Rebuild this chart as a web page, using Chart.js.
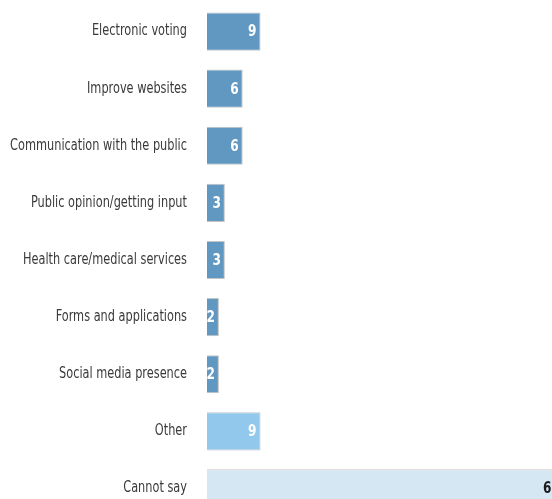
<!DOCTYPE html>
<html>
<head>
<meta charset="utf-8">
<script src="https://cdn.jsdelivr.net/npm/chart.js@4"></script>
<style>
  html, body { margin: 0; padding: 0; overflow: hidden; background: #fff; }
  #wrap { width: 570px; height: 517px; }
</style>
</head>
<body>
<div id="wrap"><canvas id="chart"></canvas></div>
<script>
const categories = [
    "Electronic voting",
    "Improve websites",
    "Communication with the public",
    "Public opinion/getting input",
    "Health care/medical services",
    "Forms and applications",
    "Social media presence",
    "Other",
    "Cannot say"
];
const values = [9, 6, 6, 3, 3, 2, 2, 9, 60];
const barColors = ["#6198c2", "#6198c2", "#6198c2", "#6198c2", "#6198c2", "#6198c2", "#6198c2", "#92c8ec", "#d6e7f4"];
const labelColors = ["#fff", "#fff", "#fff", "#fff", "#fff", "#fff", "#fff", "#fff", "#1a1a1a"];

const FONT = "'DejaVu Sans Condensed', 'DejaVu Sans', sans-serif";

// category names, squeezed a bit to look like a condensed face
const categoryLabels = {
    id: 'categoryLabels',
    afterDraw(chart) {
        const ctx = chart.ctx;
        const yScale = chart.scales.y;
        ctx.save();
        ctx.font = "15px " + FONT;
        ctx.fillStyle = '#3a3a3a';
        ctx.textAlign = 'right';
        ctx.textBaseline = 'middle';
        categories.forEach((name, i) => {
            const y = yScale.getPixelForValue(i);
            ctx.save();
            ctx.translate(chart.chartArea.left - 20, y);
            ctx.scale(0.84, 1);
            ctx.fillText(name, 0, 0);
            ctx.restore();
        });
        ctx.restore();
    }
};

// draws the numbers at the end of each bar
const valueLabels = {
    id: 'valueLabels',
    afterDatasetsDraw(chart) {
        const ctx = chart.ctx;
        const meta = chart.getDatasetMeta(0);
        ctx.save();
        ctx.font = "bold 15px " + FONT;
        ctx.textAlign = 'right';
        ctx.textBaseline = 'middle';
        meta.data.forEach((bar, i) => {
            ctx.save();
            ctx.translate(bar.x - 4, bar.y + 1);
            ctx.scale(0.9, 1);
            ctx.fillStyle = labelColors[i];
            ctx.fillText(values[i], 0, 0);
            ctx.restore();
        });
        ctx.restore();
    }
};

new Chart(document.getElementById('chart'), {
    type: 'bar',
    data: {
        labels: categories,
        datasets: [{
            data: values,
            backgroundColor: barColors,
            borderColor: '#c4c4c4',
            borderWidth: 1,
            categoryPercentage: 1,
            barPercentage: 0.668
        }]
    },
    options: {
        indexAxis: 'y',
        responsive: true,
        maintainAspectRatio: false,
        animation: false,
        layout: { padding: { top: 3, right: 6 } },
        plugins: {
            legend: { display: false },
            tooltip: { enabled: false }
        },
        scales: {
            x: {
                display: false,
                min: 0,
                max: 60
            },
            y: {
                grid: { display: false, drawTicks: false },
                border: { display: false },
                ticks: { display: false },
                afterFit(scale) {
                    scale.width = 207;
                    scale.paddingTop = 0;
                    scale.paddingBottom = 0;
                }
            }
        }
    },
    plugins: [valueLabels, categoryLabels]
});
</script>
</body>
</html>
